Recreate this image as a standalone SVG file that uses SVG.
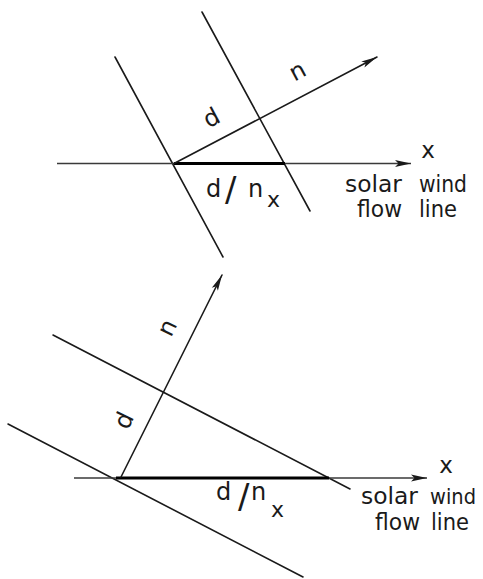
<svg xmlns="http://www.w3.org/2000/svg" width="483" height="579" viewBox="0 0 483 579">
  <defs>
    <style>
      .ln { stroke: #1a1a1a; stroke-width: 1.6; fill: none; stroke-linecap: round; }
      .ax { stroke: #3a3a3a; stroke-width: 1.6; fill: none; }
      .thick { stroke: #000; stroke-width: 3.2; fill: none; }
      .t { font-family: "DejaVu Sans", "Liberation Sans", sans-serif; font-size: 23px; fill: #1a1a1a; }
      .lbl { font-family: "DejaVu Sans", "Liberation Sans", sans-serif; font-size: 24px; fill: #1a1a1a; }
      .sl { font-size: 34px; }
      .sub { font-size: 22px; }
      .edge { font-size: 21.5px; }
    </style>
    <marker id="ah" markerUnits="userSpaceOnUse" markerWidth="17" markerHeight="8" refX="16" refY="4" orient="auto" overflow="visible">
      <path d="M0,0.6 L16,4 L0,7.4 L3.5,4 Z" fill="#1a1a1a"/>
    </marker>
  </defs>
  <rect width="483" height="579" fill="#fff"/>

  <g id="top-panel">
    <line class="ln" x1="115" y1="57" x2="223" y2="257"/>
    <line class="ln" x1="202" y1="12" x2="310" y2="211"/>
    <line class="ax" x1="57" y1="163.5" x2="411" y2="163.5" marker-end="url(#ah)"/>
    <line class="thick" x1="174" y1="163.5" x2="285" y2="163.5"/>
    <line class="ln" x1="174" y1="163.5" x2="377" y2="57" marker-end="url(#ah)"/>
    <text class="lbl" transform="translate(211,117) rotate(-28)" x="0" y="9" text-anchor="middle">d</text>
    <text class="lbl" transform="translate(298,72) rotate(-28)" x="0" y="7" text-anchor="middle">n</text>
    <text class="lbl"><tspan x="206" y="197">d</tspan><tspan class="sl" x="225" y="201">/</tspan><tspan x="248" y="197">n</tspan><tspan class="sub" x="267" y="207">x</tspan></text>
    <text class="t" x="428" y="158" text-anchor="middle">x</text>
    <text class="t" x="345" y="192" textLength="57" lengthAdjust="spacingAndGlyphs">solar</text>
    <text class="t" x="419" y="192" textLength="48" lengthAdjust="spacingAndGlyphs">wind</text>
    <text class="t" x="357" y="217" textLength="45" lengthAdjust="spacingAndGlyphs">flow</text>
    <text class="t" x="419" y="217" textLength="38" lengthAdjust="spacingAndGlyphs">line</text>
  </g>

  <g id="bottom-panel">
    <line class="ln" x1="53" y1="335" x2="350" y2="489"/>
    <line class="ln" x1="8" y1="424" x2="303" y2="577"/>
    <line class="ax" x1="74" y1="478" x2="427" y2="478" marker-end="url(#ah)"/>
    <line class="thick" x1="116" y1="478" x2="329" y2="478"/>
    <line class="ln" x1="121" y1="477" x2="222" y2="275" marker-end="url(#ah)"/>
    <text class="lbl" transform="translate(123,420) rotate(-64)" x="0" y="9" text-anchor="middle">d</text>
    <text class="lbl" transform="translate(168,328) rotate(-64)" x="0" y="7" text-anchor="middle">n</text>
    <text class="lbl"><tspan x="216" y="500">d</tspan><tspan class="sl" x="238" y="508">/</tspan><tspan x="251" y="500">n</tspan><tspan class="sub" x="271" y="517">x</tspan></text>
    <text class="t" x="446" y="473" text-anchor="middle">x</text>
    <text class="t" x="361" y="504" textLength="57" lengthAdjust="spacingAndGlyphs">solar</text>
    <text class="t edge" x="430" y="504" textLength="46" lengthAdjust="spacingAndGlyphs">wind</text>
    <text class="t" x="375" y="530" textLength="45" lengthAdjust="spacingAndGlyphs">flow</text>
    <text class="t" x="431" y="530" textLength="38" lengthAdjust="spacingAndGlyphs">line</text>
  </g>
</svg>
